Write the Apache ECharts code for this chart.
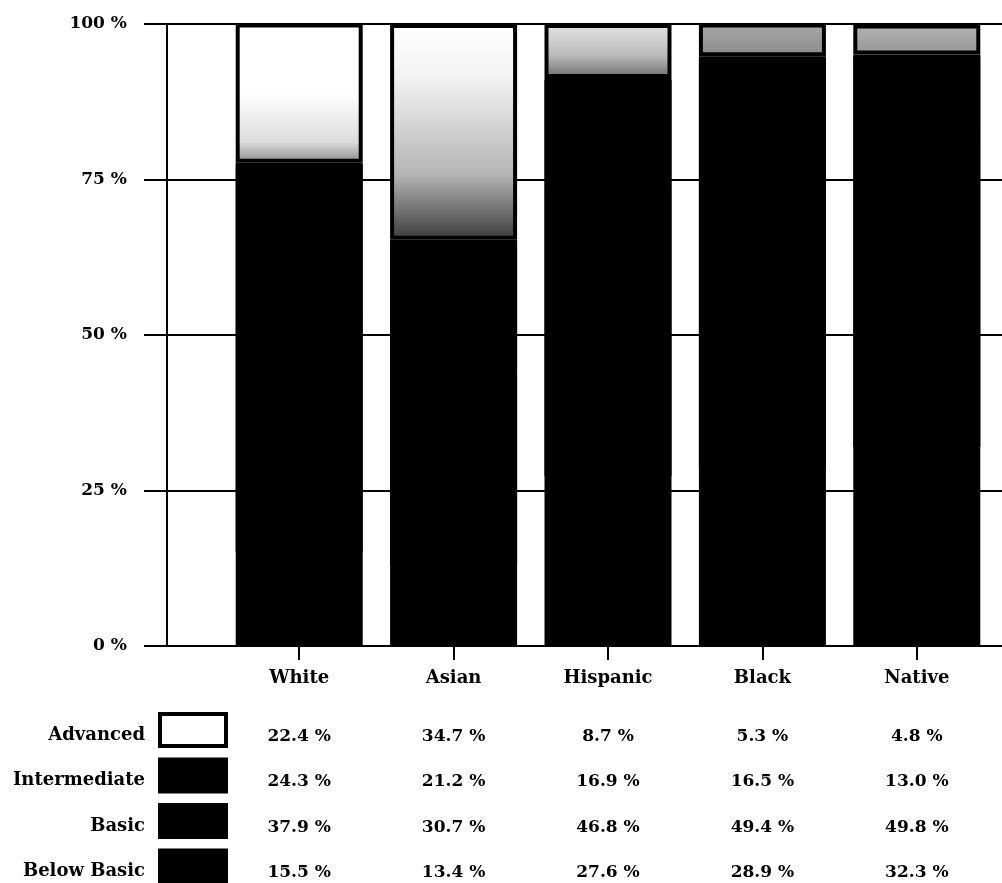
<!DOCTYPE html>
<html><head><meta charset="utf-8">
<script src="https://cdn.jsdelivr.net/npm/echarts@6/dist/echarts.min.js"></script>
<style>html,body{margin:0;padding:0;background:#fff}#c{width:1002px;height:883px}</style>
</head><body><div id="c"></div>
<script>
const categories = ['White', 'Asian', 'Hispanic', 'Black', 'Native'];
const belowBasic = [15.5, 13.4, 27.6, 28.9, 32.3];
const basic = [37.9, 30.7, 46.8, 49.4, 49.8];
const intermediate = [24.3, 21.2, 16.9, 16.5, 13.0];
const advanced = [22.4, 34.7, 8.7, 5.3, 4.8];
const yTicks = [0, 25, 50, 75, 100];

const FONT = '"DejaVu Serif", "Liberation Serif", serif';
const fmt = v => v.toFixed(1) + ' %';

// speckled look of the "Advanced" segments (styling only)
const speckle = [
  [[0, '#ffffff'], [0.5, '#ffffff'], [0.85, '#dcdcdc'], [1, '#8a8a8a']],
  [[0, '#ffffff'], [0.25, '#f2f2f2'], [0.7, '#b4b4b4'], [1, '#3a3a3a']],
  [[0, '#e6e6e6'], [0.6, '#b8b8b8'], [1, '#6a6a6a']],
  [[0, '#a8a8a8'], [1, '#8a8a8a']],
  [[0, '#b4b4b4'], [1, '#959595']]
];

const blackStyle = { color: '#000', borderColor: '#000', borderWidth: 4 };
const seamCover = { shadowColor: '#000', shadowBlur: 0, shadowOffsetX: 0, shadowOffsetY: 2 };

const barBase = {
  type: 'bar', stack: 'total', xAxisIndex: 1, yAxisIndex: 1,
  barWidth: 127, z: 3,
  emphasis: { disabled: true }
};

const rows = [
  { name: 'Advanced', values: advanced, offset: 74 },
  { name: 'Intermediate', values: intermediate, offset: 119 },
  { name: 'Basic', values: basic, offset: 165 },
  { name: 'Below Basic', values: belowBasic, offset: 210 }
];

const valueAxes = rows.map(r => ({
  type: 'category', gridIndex: 1, data: categories, position: 'bottom',
  offset: r.offset,
  axisLine: { show: false }, axisTick: { show: false }, splitLine: { show: false },
  axisLabel: {
    margin: 8, fontFamily: FONT, fontSize: 17, fontWeight: 'bold', color: '#000',
    formatter: (v, i) => fmt(r.values[i])
  }
}));

const chart = echarts.init(document.getElementById('c'), null, { renderer: 'canvas' });
chart.setOption({
  animation: false,
  backgroundColor: '#fff',
  grid: [
    { left: 167, right: 0, top: 24, bottom: 237 },
    { left: 222, right: 8, top: 24, bottom: 237 }
  ],
  xAxis: [
    { type: 'value', gridIndex: 0, min: 0, max: 1, show: false },
    {
      type: 'category', gridIndex: 1, data: categories,
      axisLine: { show: false },
      axisTick: { show: true, alignWithLabel: true, length: 14, lineStyle: { color: '#000', width: 2 } },
      axisLabel: { margin: 23, fontFamily: FONT, fontSize: 18, fontWeight: 'bold', color: '#000' }
    }
  ].concat(valueAxes),
  yAxis: [
    {
      type: 'value', gridIndex: 0,
      min: yTicks[0], max: yTicks[yTicks.length - 1], interval: yTicks[1] - yTicks[0],
      axisLine: { show: true, lineStyle: { color: '#000', width: 2 } },
      axisTick: { show: true, length: 23, lineStyle: { color: '#000', width: 2 } },
      splitLine: { show: true, lineStyle: { color: '#000', width: 2 } },
      axisLabel: { margin: 40, fontFamily: FONT, fontSize: 17, fontWeight: 'bold', color: '#000',
        formatter: v => v + ' %' }
    },
    { type: 'value', gridIndex: 1, min: 0, max: 100, show: false }
  ],
  legend: {
    orient: 'vertical', right: 1002 - 228, top: 712, height: 260, padding: 0,
    align: 'right', icon: 'rect', itemWidth: 66, itemHeight: 32, itemGap: 9.5,
    selectedMode: false,
    itemStyle: { borderWidth: 4, borderColor: '#000' },
    formatter: name => '{t|' + name + '}',
    textStyle: {
      fontFamily: FONT, fontSize: 18, fontWeight: 'bold', color: '#000',
      rich: { t: { fontFamily: FONT, fontSize: 18, fontWeight: 'bold', color: '#000',
        lineHeight: 20, padding: [10, 10, 0, 0] } }
    },
    data: [
      { name: 'Advanced', itemStyle: { color: '#fff', borderColor: '#000', borderWidth: 4 } },
      'Intermediate', 'Basic', 'Below Basic'
    ]
  },
  series: [
    Object.assign({}, barBase, { name: 'Below Basic', itemStyle: blackStyle, data: belowBasic }),
    Object.assign({}, barBase, { name: 'Basic', itemStyle: Object.assign({}, blackStyle, seamCover), data: basic }),
    Object.assign({}, barBase, { name: 'Intermediate', itemStyle: Object.assign({}, blackStyle, seamCover), data: intermediate }),
    Object.assign({}, barBase, {
      name: 'Advanced',
      itemStyle: { color: '#fff', borderColor: '#000', borderWidth: 4 },
      data: advanced.map((v, i) => ({
        value: v,
        itemStyle: {
          color: new echarts.graphic.LinearGradient(0, 0, 0, 1,
            speckle[i].map(s => ({ offset: s[0], color: s[1] })))
        }
      }))
    })
  ]
});
</script></body></html>
